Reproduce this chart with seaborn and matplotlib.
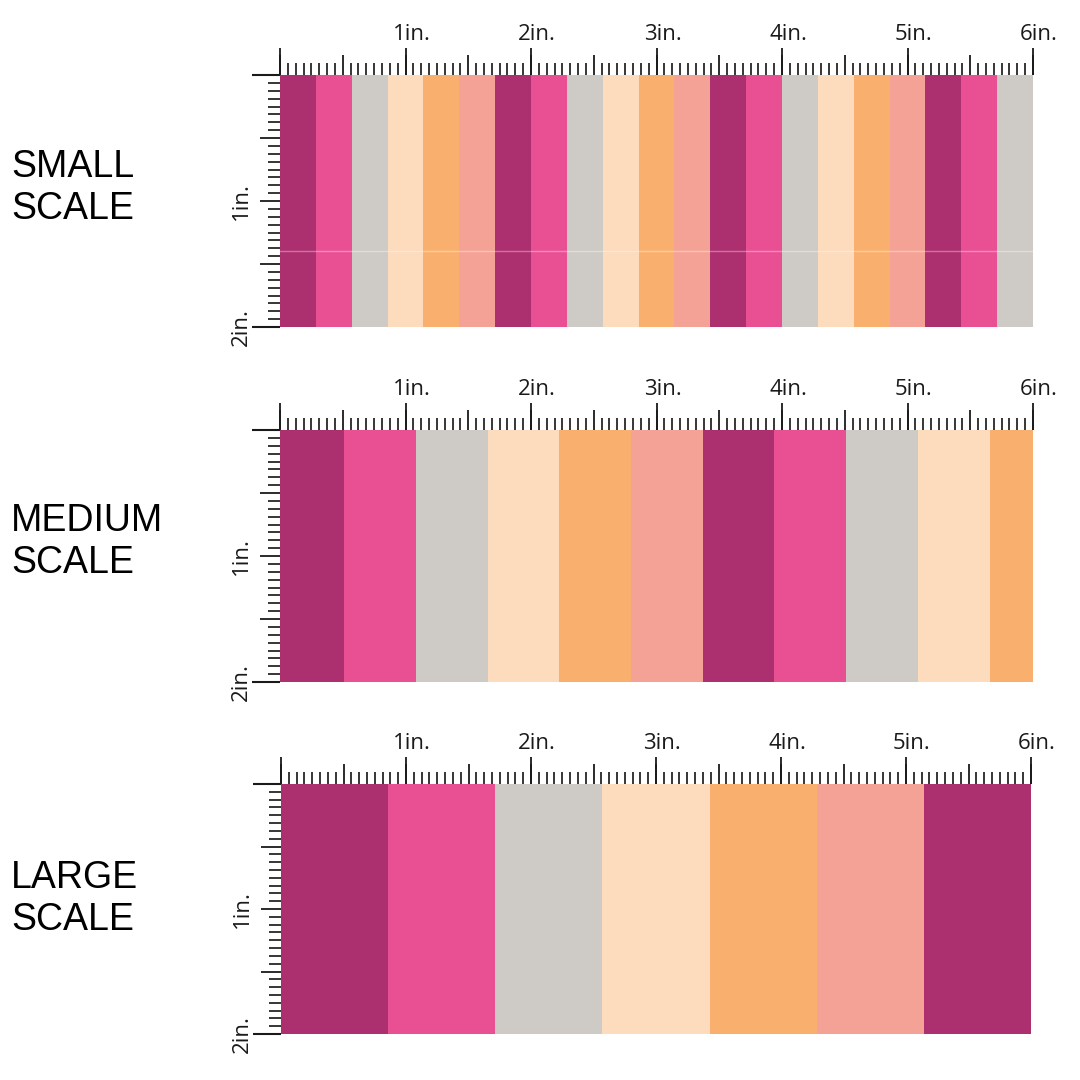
import matplotlib
matplotlib.use("Agg")
import matplotlib.pyplot as plt
import matplotlib.transforms as mtransforms
import seaborn as sns
import pandas as pd

sns.set_theme(style="white")
plt.rcParams["font.family"] = ["Open Sans", "DejaVu Sans"]

# stripe colours
palette = {
    "plum": "#AC2F6F",
    "pink": "#E85093",
    "gray": "#CECBC7",
    "cream": "#FDDBBD",
    "orange": "#F9AF6E",
    "salmon": "#F5A296",
}

# stripe order, left to right, for each print scale
small_stripes = ["plum", "pink", "gray", "cream", "orange", "salmon",
                 "plum", "pink", "gray", "cream", "orange", "salmon",
                 "plum", "pink", "gray", "cream", "orange", "salmon",
                 "plum", "pink", "gray"]
medium_stripes = ["plum", "pink", "gray", "cream", "orange", "salmon",
                  "plum", "pink", "gray", "cream", "orange"]
large_stripes = ["plum", "pink", "gray", "cream", "orange", "salmon", "plum"]

# stripe width and starting point, inches
stripe_widths = [2 / 7, 4 / 7, 6 / 7]
stripe_starts = [0.0, -0.06, 0.0]

scale_names = ["SMALL\nSCALE", "MEDIUM\nSCALE", "LARGE\nSCALE"]
inch_labels = ["", "1in.", "2in.", "3in.", "4in.", "5in.", "6in."]
side_labels = ["", "", "1in.", "", "2in."]

panels = [small_stripes, medium_stripes, large_stripes]
rects = [
    [280 / 1080, 1 - 327 / 1080, 753 / 1080, 252 / 1080],
    [280 / 1080, 1 - 682 / 1080, 753 / 1080, 252 / 1080],
    [281 / 1080, 1 - 1034 / 1080, 750 / 1080, 250 / 1080],
]
text_y = [1 - 188 / 1080, 1 - 542 / 1080, 1 - 899 / 1080]

fig = plt.figure(figsize=(10.8, 10.8), dpi=100)

minor_x = [k / 16 for k in range(97) if k % 8 != 0]
minor_y = [k / 16 for k in range(33) if k % 8 != 0]
shift = mtransforms.ScaledTranslation(6 / 100, 0, fig.dpi_scale_trans)

for i, stripes in enumerate(panels):
    ax = fig.add_axes(rects[i])
    w = stripe_widths[i]
    df = pd.DataFrame({
        "x": [stripe_starts[i] + (j + 0.5) * w for j in range(len(stripes))],
        "h": [2.0] * len(stripes),
        "color": stripes,
    })
    sns.barplot(data=df, x="x", y="h", hue="color", palette=palette,
                native_scale=True, width=1, dodge=False, legend=False,
                saturation=1, linewidth=0, ax=ax)
    ax.set_xlim(0, 6)
    ax.set_ylim(2, 0)
    ax.set(xlabel="", ylabel="")
    for s in ax.spines.values():
        s.set_visible(False)
    if i == 0:
        ax.axhline(1.4, color="white", alpha=0.35, lw=1)

    # top ruler
    ax.xaxis.set_ticks_position("top")
    ax.set_xticks([k / 2 for k in range(13)])
    ax.set_xticklabels([])
    ax.set_xticks(minor_x, minor=True)
    ax.tick_params(axis="x", which="major", length=14.4, width=1.3,
                   color="#1a1a1a", top=True, bottom=False,
                   labeltop=False, labelbottom=False)
    ax.tick_params(axis="x", which="minor", length=8.6, width=1.3,
                   top=True, bottom=False)
    for k, t in zip(minor_x, ax.xaxis.get_minor_ticks(len(minor_x))):
        t.tick2line.set_color("#6e6e6e" if round(k * 16) % 2 else "#1a1a1a")

    sec = ax.secondary_xaxis("top")
    sec.set_xticks(range(7), labels=inch_labels)
    sec.tick_params(length=19.4, width=1.3, color="#1a1a1a", pad=2,
                    labelsize=16, labelcolor="#1a1a1a")
    sec.spines["top"].set_visible(False)
    for lab in sec.get_xticklabels():
        lab.set_transform(lab.get_transform() + shift)

    # side ruler
    ax.yaxis.set_ticks_position("left")
    ax.set_yticks([k / 2 for k in range(5)], labels=side_labels)
    ax.set_yticks(minor_y, minor=True)
    ax.tick_params(axis="y", which="major", length=14.4, width=1.3,
                   color="#1a1a1a", left=True, labelsize=16, pad=6,
                   labelrotation=90, labelcolor="#1a1a1a")
    ax.tick_params(axis="y", which="minor", length=8.6, width=1.3, left=True)
    for k, t in zip(minor_y, ax.yaxis.get_minor_ticks(len(minor_y))):
        t.tick1line.set_color("#6e6e6e" if round(k * 16) % 2 else "#1a1a1a")
    for lab in ax.get_yticklabels():
        lab.set_va("center")

    secy = ax.secondary_yaxis("left")
    secy.set_yticks([0, 2], labels=["", ""])
    secy.tick_params(length=20, width=1.5, color="#1a1a1a")
    secy.spines["left"].set_visible(False)

    fig.text(11 / 1080, text_y[i], scale_names[i],
             family=["Liberation Sans", "DejaVu Sans"],
             fontsize=27, va="center", ha="left", linespacing=1.22, color="black")

fig.savefig("out.png", dpi=100)
